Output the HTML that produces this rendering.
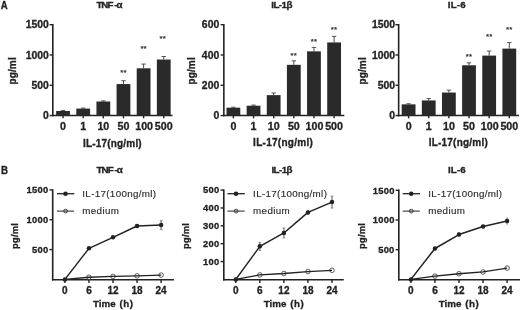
<!DOCTYPE html>
<html><head><meta charset="utf-8"><title>Figure</title>
<style>
html,body{margin:0;padding:0;background:#fff;}
body{width:520px;height:310px;overflow:hidden;}
svg{display:block;font-family:"Liberation Sans",sans-serif;}
</style></head><body>
<svg width="520" height="310" viewBox="0 0 520 310">
<defs><filter id="bl" x="0" y="0" width="520" height="310" filterUnits="userSpaceOnUse"><feGaussianBlur stdDeviation="0.5"/></filter></defs>
<rect width="520" height="310" fill="#fff"/>
<g filter="url(#bl)">
<line x1="52.8" y1="24" x2="52.8" y2="116.35" stroke="#222" stroke-width="1.6"/>
<line x1="52" y1="115.55" x2="172.5" y2="115.55" stroke="#222" stroke-width="1.6"/>
<line x1="49.6" y1="115.55" x2="52.8" y2="115.55" stroke="#222" stroke-width="1.4"/>
<text transform="translate(48.8 119.3)" font-size="10.4" text-anchor="end" font-weight="bold" stroke="#222" stroke-width="0.3" fill="#222">0</text>
<line x1="49.6" y1="85.27" x2="52.8" y2="85.27" stroke="#222" stroke-width="1.4"/>
<text transform="translate(48.8 89.02)" font-size="10.4" text-anchor="end" font-weight="bold" stroke="#222" stroke-width="0.3" fill="#222">500</text>
<line x1="49.6" y1="54.98" x2="52.8" y2="54.98" stroke="#222" stroke-width="1.4"/>
<text transform="translate(48.8 58.73)" font-size="10.4" text-anchor="end" font-weight="bold" stroke="#222" stroke-width="0.3" fill="#222">1000</text>
<line x1="49.6" y1="24.7" x2="52.8" y2="24.7" stroke="#222" stroke-width="1.4"/>
<text transform="translate(48.8 28.45)" font-size="10.4" text-anchor="end" font-weight="bold" stroke="#222" stroke-width="0.3" fill="#222">1500</text>
<rect x="56.15" y="111.01" width="13.8" height="4.54" fill="#2c2c2c"/>
<line x1="63.05" y1="111.01" x2="63.05" y2="110.52" stroke="#333" stroke-width="0.9"/>
<line x1="60.85" y1="110.52" x2="65.25" y2="110.52" stroke="#3a3a3a" stroke-width="0.85"/>
<line x1="63.05" y1="115.55" x2="63.05" y2="118.35" stroke="#222" stroke-width="1.4"/>
<text transform="translate(63.05 130.15)" font-size="10.7" text-anchor="middle" font-weight="bold" stroke="#222" stroke-width="0.3" fill="#222">0</text>
<rect x="76.29" y="108.58" width="13.8" height="6.97" fill="#2c2c2c"/>
<line x1="83.19" y1="108.58" x2="83.19" y2="108.1" stroke="#333" stroke-width="0.9"/>
<line x1="80.99" y1="108.1" x2="85.39" y2="108.1" stroke="#3a3a3a" stroke-width="0.85"/>
<line x1="83.19" y1="115.55" x2="83.19" y2="118.35" stroke="#222" stroke-width="1.4"/>
<text transform="translate(83.19 130.15)" font-size="10.7" text-anchor="middle" font-weight="bold" stroke="#222" stroke-width="0.3" fill="#222">1</text>
<rect x="96.43" y="101.5" width="13.8" height="14.05" fill="#2c2c2c"/>
<line x1="103.33" y1="101.5" x2="103.33" y2="100.89" stroke="#333" stroke-width="0.9"/>
<line x1="101.13" y1="100.89" x2="105.53" y2="100.89" stroke="#3a3a3a" stroke-width="0.85"/>
<line x1="103.33" y1="115.55" x2="103.33" y2="118.35" stroke="#222" stroke-width="1.4"/>
<text transform="translate(103.33 130.15)" font-size="10.7" text-anchor="middle" font-weight="bold" stroke="#222" stroke-width="0.3" fill="#222">10</text>
<rect x="116.57" y="84.06" width="13.8" height="31.49" fill="#2c2c2c"/>
<line x1="123.47" y1="84.06" x2="123.47" y2="80.72" stroke="#333" stroke-width="0.9"/>
<line x1="121.27" y1="80.72" x2="125.67" y2="80.72" stroke="#3a3a3a" stroke-width="0.85"/>
<line x1="123.47" y1="115.55" x2="123.47" y2="118.35" stroke="#222" stroke-width="1.4"/>
<text transform="translate(123.47 130.15)" font-size="10.7" text-anchor="middle" font-weight="bold" stroke="#222" stroke-width="0.3" fill="#222">50</text>
<text transform="translate(123.47 75.4)" font-size="7.8" text-anchor="middle" stroke="#333" stroke-width="0.25" letter-spacing="0.2" fill="#333">**</text>
<rect x="136.71" y="68.31" width="13.8" height="47.24" fill="#2c2c2c"/>
<line x1="143.61" y1="68.31" x2="143.61" y2="64.07" stroke="#333" stroke-width="0.9"/>
<line x1="141.41" y1="64.07" x2="145.81" y2="64.07" stroke="#3a3a3a" stroke-width="0.85"/>
<line x1="143.61" y1="115.55" x2="143.61" y2="118.35" stroke="#222" stroke-width="1.4"/>
<text transform="translate(144.11 130.15)" font-size="10.7" text-anchor="middle" font-weight="bold" stroke="#222" stroke-width="0.3" fill="#222">100</text>
<text transform="translate(143.61 51.3)" font-size="7.8" text-anchor="middle" stroke="#333" stroke-width="0.25" letter-spacing="0.2" fill="#333">**</text>
<rect x="156.85" y="59.53" width="13.8" height="56.02" fill="#2c2c2c"/>
<line x1="163.75" y1="59.53" x2="163.75" y2="56.5" stroke="#333" stroke-width="0.9"/>
<line x1="161.55" y1="56.5" x2="165.95" y2="56.5" stroke="#3a3a3a" stroke-width="0.85"/>
<line x1="163.75" y1="115.55" x2="163.75" y2="118.35" stroke="#222" stroke-width="1.4"/>
<text transform="translate(163.75 130.15)" font-size="10.7" text-anchor="middle" font-weight="bold" stroke="#222" stroke-width="0.3" fill="#222">500</text>
<text transform="translate(162.85 40.7)" font-size="7.8" text-anchor="middle" stroke="#333" stroke-width="0.25" letter-spacing="0.2" fill="#333">**</text>
<text x="96.4 101.3 107.5 114.2 116.6" y="8.25" font-size="9.8" font-weight="bold" stroke="#222" stroke-width="0.3" fill="#222">TNF-α</text>
<text transform="translate(83.1 146.7)" font-size="10.0" textLength="58.6" lengthAdjust="spacing" font-weight="bold" stroke="#222" stroke-width="0.3" fill="#222">IL-17(ng/ml)</text>
<text transform="translate(16.1 70.9) rotate(-90)" font-size="10.0" text-anchor="middle" font-weight="bold" stroke="#222" stroke-width="0.3" letter-spacing="0.15" fill="#222">pg/ml</text>
<line x1="223.85" y1="24" x2="223.85" y2="116.35" stroke="#222" stroke-width="1.6"/>
<line x1="223.05" y1="115.55" x2="344.3" y2="115.55" stroke="#222" stroke-width="1.6"/>
<line x1="220.65" y1="115.55" x2="223.85" y2="115.55" stroke="#222" stroke-width="1.4"/>
<text transform="translate(219.2 119.3)" font-size="10.4" text-anchor="end" font-weight="bold" stroke="#222" stroke-width="0.3" fill="#222">0</text>
<line x1="220.65" y1="85.27" x2="223.85" y2="85.27" stroke="#222" stroke-width="1.4"/>
<text transform="translate(219.2 89.02)" font-size="10.4" text-anchor="end" font-weight="bold" stroke="#222" stroke-width="0.3" fill="#222">200</text>
<line x1="220.65" y1="54.98" x2="223.85" y2="54.98" stroke="#222" stroke-width="1.4"/>
<text transform="translate(219.2 58.73)" font-size="10.4" text-anchor="end" font-weight="bold" stroke="#222" stroke-width="0.3" fill="#222">400</text>
<line x1="220.65" y1="24.7" x2="223.85" y2="24.7" stroke="#222" stroke-width="1.4"/>
<text transform="translate(219.2 28.45)" font-size="10.4" text-anchor="end" font-weight="bold" stroke="#222" stroke-width="0.3" fill="#222">600</text>
<rect x="226.5" y="107.68" width="13.8" height="7.87" fill="#2c2c2c"/>
<line x1="233.4" y1="107.68" x2="233.4" y2="107.22" stroke="#333" stroke-width="0.9"/>
<line x1="231.2" y1="107.22" x2="235.6" y2="107.22" stroke="#3a3a3a" stroke-width="0.85"/>
<line x1="233.4" y1="115.55" x2="233.4" y2="118.35" stroke="#222" stroke-width="1.4"/>
<text transform="translate(233.4 130.15)" font-size="10.7" text-anchor="middle" font-weight="bold" stroke="#222" stroke-width="0.3" fill="#222">0</text>
<rect x="246.64" y="105.71" width="13.8" height="9.84" fill="#2c2c2c"/>
<line x1="253.54" y1="105.71" x2="253.54" y2="105.1" stroke="#333" stroke-width="0.9"/>
<line x1="251.34" y1="105.1" x2="255.74" y2="105.1" stroke="#3a3a3a" stroke-width="0.85"/>
<line x1="253.54" y1="115.55" x2="253.54" y2="118.35" stroke="#222" stroke-width="1.4"/>
<text transform="translate(253.54 130.15)" font-size="10.7" text-anchor="middle" font-weight="bold" stroke="#222" stroke-width="0.3" fill="#222">1</text>
<rect x="266.78" y="95.11" width="13.8" height="20.44" fill="#2c2c2c"/>
<line x1="273.68" y1="95.11" x2="273.68" y2="92.99" stroke="#333" stroke-width="0.9"/>
<line x1="271.48" y1="92.99" x2="275.88" y2="92.99" stroke="#3a3a3a" stroke-width="0.85"/>
<line x1="273.68" y1="115.55" x2="273.68" y2="118.35" stroke="#222" stroke-width="1.4"/>
<text transform="translate(273.68 130.15)" font-size="10.7" text-anchor="middle" font-weight="bold" stroke="#222" stroke-width="0.3" fill="#222">10</text>
<rect x="286.92" y="64.83" width="13.8" height="50.72" fill="#2c2c2c"/>
<line x1="293.82" y1="64.83" x2="293.82" y2="60.89" stroke="#333" stroke-width="0.9"/>
<line x1="291.62" y1="60.89" x2="296.02" y2="60.89" stroke="#3a3a3a" stroke-width="0.85"/>
<line x1="293.82" y1="115.55" x2="293.82" y2="118.35" stroke="#222" stroke-width="1.4"/>
<text transform="translate(293.82 130.15)" font-size="10.7" text-anchor="middle" font-weight="bold" stroke="#222" stroke-width="0.3" fill="#222">50</text>
<text transform="translate(293.82 58.35)" font-size="7.8" text-anchor="middle" stroke="#333" stroke-width="0.25" letter-spacing="0.2" fill="#333">**</text>
<rect x="307.06" y="51.35" width="13.8" height="64.2" fill="#2c2c2c"/>
<line x1="313.96" y1="51.35" x2="313.96" y2="47.41" stroke="#333" stroke-width="0.9"/>
<line x1="311.76" y1="47.41" x2="316.16" y2="47.41" stroke="#3a3a3a" stroke-width="0.85"/>
<line x1="313.96" y1="115.55" x2="313.96" y2="118.35" stroke="#222" stroke-width="1.4"/>
<text transform="translate(314.46 130.15)" font-size="10.7" text-anchor="middle" font-weight="bold" stroke="#222" stroke-width="0.3" fill="#222">100</text>
<text transform="translate(313.96 44.05)" font-size="7.8" text-anchor="middle" stroke="#333" stroke-width="0.25" letter-spacing="0.2" fill="#333">**</text>
<rect x="327.2" y="42.42" width="13.8" height="73.13" fill="#2c2c2c"/>
<line x1="334.1" y1="42.42" x2="334.1" y2="36.36" stroke="#333" stroke-width="0.9"/>
<line x1="331.9" y1="36.36" x2="336.3" y2="36.36" stroke="#3a3a3a" stroke-width="0.85"/>
<line x1="334.1" y1="115.55" x2="334.1" y2="118.35" stroke="#222" stroke-width="1.4"/>
<text transform="translate(334.1 130.15)" font-size="10.7" text-anchor="middle" font-weight="bold" stroke="#222" stroke-width="0.3" fill="#222">500</text>
<text transform="translate(334.1 32.3)" font-size="7.8" text-anchor="middle" stroke="#333" stroke-width="0.25" letter-spacing="0.2" fill="#333">**</text>
<text transform="translate(271.2 8.25)" font-size="9.8" textLength="21.3" lengthAdjust="spacing" font-weight="bold" stroke="#222" stroke-width="0.3" fill="#222">IL-1β</text>
<text transform="translate(253.1 145.7)" font-size="10.0" textLength="59.7" lengthAdjust="spacing" font-weight="bold" stroke="#222" stroke-width="0.3" fill="#222">IL-17(ng/ml)</text>
<text transform="translate(195.2 70.9) rotate(-90)" font-size="10.0" text-anchor="middle" font-weight="bold" stroke="#222" stroke-width="0.3" letter-spacing="0.15" fill="#222">pg/ml</text>
<line x1="398.65" y1="24" x2="398.65" y2="116.35" stroke="#222" stroke-width="1.6"/>
<line x1="397.85" y1="115.55" x2="519" y2="115.55" stroke="#222" stroke-width="1.6"/>
<line x1="395.45" y1="115.55" x2="398.65" y2="115.55" stroke="#222" stroke-width="1.4"/>
<text transform="translate(395 119.3)" font-size="10.4" text-anchor="end" font-weight="bold" stroke="#222" stroke-width="0.3" fill="#222">0</text>
<line x1="395.45" y1="85.27" x2="398.65" y2="85.27" stroke="#222" stroke-width="1.4"/>
<text transform="translate(395 89.02)" font-size="10.4" text-anchor="end" font-weight="bold" stroke="#222" stroke-width="0.3" fill="#222">500</text>
<line x1="395.45" y1="54.98" x2="398.65" y2="54.98" stroke="#222" stroke-width="1.4"/>
<text transform="translate(395 58.73)" font-size="10.4" text-anchor="end" font-weight="bold" stroke="#222" stroke-width="0.3" fill="#222">1000</text>
<line x1="395.45" y1="24.7" x2="398.65" y2="24.7" stroke="#222" stroke-width="1.4"/>
<text transform="translate(395 28.45)" font-size="10.4" text-anchor="end" font-weight="bold" stroke="#222" stroke-width="0.3" fill="#222">1500</text>
<rect x="401.7" y="104.35" width="13.8" height="11.2" fill="#2c2c2c"/>
<line x1="408.6" y1="104.35" x2="408.6" y2="103.74" stroke="#333" stroke-width="0.9"/>
<line x1="406.4" y1="103.74" x2="410.8" y2="103.74" stroke="#3a3a3a" stroke-width="0.85"/>
<line x1="408.6" y1="115.55" x2="408.6" y2="118.35" stroke="#222" stroke-width="1.4"/>
<text transform="translate(408.6 130.15)" font-size="10.7" text-anchor="middle" font-weight="bold" stroke="#222" stroke-width="0.3" fill="#222">0</text>
<rect x="421.84" y="100.41" width="13.8" height="15.14" fill="#2c2c2c"/>
<line x1="428.74" y1="100.41" x2="428.74" y2="98.59" stroke="#333" stroke-width="0.9"/>
<line x1="426.54" y1="98.59" x2="430.94" y2="98.59" stroke="#3a3a3a" stroke-width="0.85"/>
<line x1="428.74" y1="115.55" x2="428.74" y2="118.35" stroke="#222" stroke-width="1.4"/>
<text transform="translate(428.74 130.15)" font-size="10.7" text-anchor="middle" font-weight="bold" stroke="#222" stroke-width="0.3" fill="#222">1</text>
<rect x="441.98" y="92.53" width="13.8" height="23.02" fill="#2c2c2c"/>
<line x1="448.88" y1="92.53" x2="448.88" y2="90.11" stroke="#333" stroke-width="0.9"/>
<line x1="446.68" y1="90.11" x2="451.08" y2="90.11" stroke="#3a3a3a" stroke-width="0.85"/>
<line x1="448.88" y1="115.55" x2="448.88" y2="118.35" stroke="#222" stroke-width="1.4"/>
<text transform="translate(448.88 130.15)" font-size="10.7" text-anchor="middle" font-weight="bold" stroke="#222" stroke-width="0.3" fill="#222">10</text>
<rect x="462.12" y="65.28" width="13.8" height="50.27" fill="#2c2c2c"/>
<line x1="469.02" y1="65.28" x2="469.02" y2="62.86" stroke="#333" stroke-width="0.9"/>
<line x1="466.82" y1="62.86" x2="471.22" y2="62.86" stroke="#3a3a3a" stroke-width="0.85"/>
<line x1="469.02" y1="115.55" x2="469.02" y2="118.35" stroke="#222" stroke-width="1.4"/>
<text transform="translate(469.02 130.15)" font-size="10.7" text-anchor="middle" font-weight="bold" stroke="#222" stroke-width="0.3" fill="#222">50</text>
<text transform="translate(469.02 59.25)" font-size="7.8" text-anchor="middle" stroke="#333" stroke-width="0.25" letter-spacing="0.2" fill="#333">**</text>
<rect x="482.26" y="55.59" width="13.8" height="59.96" fill="#2c2c2c"/>
<line x1="489.16" y1="55.59" x2="489.16" y2="51.05" stroke="#333" stroke-width="0.9"/>
<line x1="486.96" y1="51.05" x2="491.36" y2="51.05" stroke="#3a3a3a" stroke-width="0.85"/>
<line x1="489.16" y1="115.55" x2="489.16" y2="118.35" stroke="#222" stroke-width="1.4"/>
<text transform="translate(489.66 130.15)" font-size="10.7" text-anchor="middle" font-weight="bold" stroke="#222" stroke-width="0.3" fill="#222">100</text>
<text transform="translate(489.16 38.85)" font-size="7.8" text-anchor="middle" stroke="#333" stroke-width="0.25" letter-spacing="0.2" fill="#333">**</text>
<rect x="502.4" y="48.62" width="13.8" height="66.93" fill="#2c2c2c"/>
<line x1="509.3" y1="48.62" x2="509.3" y2="42.57" stroke="#333" stroke-width="0.9"/>
<line x1="507.1" y1="42.57" x2="511.5" y2="42.57" stroke="#3a3a3a" stroke-width="0.85"/>
<line x1="509.3" y1="115.55" x2="509.3" y2="118.35" stroke="#222" stroke-width="1.4"/>
<text transform="translate(509.3 130.15)" font-size="10.7" text-anchor="middle" font-weight="bold" stroke="#222" stroke-width="0.3" fill="#222">500</text>
<text transform="translate(509.3 31.65)" font-size="7.8" text-anchor="middle" stroke="#333" stroke-width="0.25" letter-spacing="0.2" fill="#333">**</text>
<text transform="translate(447.7 8.25)" font-size="9.8" textLength="18.1" lengthAdjust="spacing" font-weight="bold" stroke="#222" stroke-width="0.3" fill="#222">IL-6</text>
<text transform="translate(428.7 145.8)" font-size="10.0" textLength="59.1" lengthAdjust="spacing" font-weight="bold" stroke="#222" stroke-width="0.3" fill="#222">IL-17(ng/ml)</text>
<text transform="translate(365.8 70.9) rotate(-90)" font-size="10.0" text-anchor="middle" font-weight="bold" stroke="#222" stroke-width="0.3" letter-spacing="0.15" fill="#222">pg/ml</text>
<text transform="translate(0.7 8.5)" font-size="10.2" textLength="6.9" lengthAdjust="spacingAndGlyphs" font-weight="bold" stroke="#222" stroke-width="0.3" fill="#222">A</text>
<text transform="translate(0.9 173.8)" font-size="10.3" textLength="7" lengthAdjust="spacingAndGlyphs" font-weight="bold" stroke="#222" stroke-width="0.3" fill="#222">B</text>
<line x1="52.7" y1="189.2" x2="52.7" y2="280.5" stroke="#222" stroke-width="1.6"/>
<line x1="51.9" y1="279.7" x2="173.9" y2="279.7" stroke="#222" stroke-width="1.6"/>
<line x1="49.5" y1="249.57" x2="52.7" y2="249.57" stroke="#222" stroke-width="1.4"/>
<text transform="translate(48.4 252.92)" font-size="9.4" text-anchor="end" font-weight="bold" stroke="#222" stroke-width="0.3" letter-spacing="0.25" fill="#222">500</text>
<line x1="49.5" y1="219.73" x2="52.7" y2="219.73" stroke="#222" stroke-width="1.4"/>
<text transform="translate(48.4 223.08)" font-size="9.4" text-anchor="end" font-weight="bold" stroke="#222" stroke-width="0.3" letter-spacing="0.25" fill="#222">1000</text>
<line x1="49.5" y1="189.9" x2="52.7" y2="189.9" stroke="#222" stroke-width="1.4"/>
<text transform="translate(48.4 193.25)" font-size="9.4" text-anchor="end" font-weight="bold" stroke="#222" stroke-width="0.3" letter-spacing="0.25" fill="#222">1500</text>
<line x1="64.9" y1="279.7" x2="64.9" y2="282.9" stroke="#222" stroke-width="1.4"/>
<text transform="translate(64.9 294)" font-size="10.0" text-anchor="middle" font-weight="bold" stroke="#222" stroke-width="0.3" fill="#222">0</text>
<line x1="88.95" y1="279.7" x2="88.95" y2="282.9" stroke="#222" stroke-width="1.4"/>
<text transform="translate(88.95 294)" font-size="10.0" text-anchor="middle" font-weight="bold" stroke="#222" stroke-width="0.3" fill="#222">6</text>
<line x1="113" y1="279.7" x2="113" y2="282.9" stroke="#222" stroke-width="1.4"/>
<text transform="translate(113 294)" font-size="10.0" text-anchor="middle" font-weight="bold" stroke="#222" stroke-width="0.3" fill="#222">12</text>
<line x1="137.05" y1="279.7" x2="137.05" y2="282.9" stroke="#222" stroke-width="1.4"/>
<text transform="translate(137.05 294)" font-size="10.0" text-anchor="middle" font-weight="bold" stroke="#222" stroke-width="0.3" fill="#222">18</text>
<line x1="161.1" y1="279.7" x2="161.1" y2="282.9" stroke="#222" stroke-width="1.4"/>
<text transform="translate(161.1 294)" font-size="10.0" text-anchor="middle" font-weight="bold" stroke="#222" stroke-width="0.3" fill="#222">24</text>
<circle cx="88.95" cy="277.25" r="2.3" fill="#f6f6f6" stroke="#222" stroke-width="0.7"/>
<circle cx="113" cy="276.42" r="2.3" fill="#f6f6f6" stroke="#222" stroke-width="0.7"/>
<circle cx="137.05" cy="275.82" r="2.3" fill="#f6f6f6" stroke="#222" stroke-width="0.7"/>
<circle cx="161.1" cy="275.1" r="2.3" fill="#f6f6f6" stroke="#222" stroke-width="0.7"/>
<polyline points="64.9,279.4 88.95,277.25 113,276.42 137.05,275.82 161.1,275.1" fill="none" stroke="#222" stroke-width="1.3"/>
<line x1="161.1" y1="220.6" x2="161.1" y2="229.6" stroke="#333" stroke-width="0.8"/>
<line x1="159.8" y1="220.6" x2="162.4" y2="220.6" stroke="#555" stroke-width="0.6"/>
<line x1="159.8" y1="229.6" x2="162.4" y2="229.6" stroke="#555" stroke-width="0.6"/>
<polyline points="64.9,279.4 88.95,248.37 113,237.33 137.05,226 161.1,225.1" fill="none" stroke="#222" stroke-width="1.5" stroke-linejoin="round"/>
<circle cx="64.9" cy="279.4" r="2.25" fill="#222"/>
<circle cx="88.95" cy="248.37" r="2.25" fill="#222"/>
<circle cx="113" cy="237.33" r="2.25" fill="#222"/>
<circle cx="137.05" cy="226" r="2.25" fill="#222"/>
<circle cx="161.1" cy="225.1" r="2.25" fill="#222"/>
<line x1="57" y1="193.7" x2="74.3" y2="193.7" stroke="#222" stroke-width="1.3"/>
<circle cx="65.5" cy="193.7" r="2.3" fill="#222"/>
<text transform="translate(82.3 196.7)" font-size="9.8" textLength="73.8" lengthAdjust="spacing" stroke="#2e2e2e" stroke-width="0.15" fill="#2e2e2e">IL-17(100ng/ml)</text>
<circle cx="65.6" cy="211.1" r="1.9" fill="#e8e8e8" stroke="#222" stroke-width="0.8"/>
<line x1="57" y1="211.1" x2="74.1" y2="211.1" stroke="#333" stroke-width="1.1"/>
<text transform="translate(82.3 214.2)" font-size="9.8" textLength="36.6" lengthAdjust="spacing" stroke="#2e2e2e" stroke-width="0.15" fill="#2e2e2e">medium</text>
<text x="96.6 101.5 107.7 114.4 116.8" y="173.35" font-size="9.8" font-weight="bold" stroke="#222" stroke-width="0.3" fill="#222">TNF-α</text>
<text transform="translate(92.9 306.7)" font-size="9.8" font-weight="bold" stroke="#222" stroke-width="0.3" fill="#222">Time</text>
<text transform="translate(119.4 306.7)" font-size="9.8" font-weight="bold" stroke="#222" stroke-width="0.3" letter-spacing="0.5" fill="#222">(h)</text>
<text transform="translate(18.3 235.9) rotate(-90)" font-size="9.3" text-anchor="middle" font-weight="bold" stroke="#222" stroke-width="0.3" letter-spacing="0.3" fill="#222">pg/ml</text>
<line x1="223.8" y1="189.4" x2="223.8" y2="280.5" stroke="#222" stroke-width="1.6"/>
<line x1="223" y1="279.7" x2="343.8" y2="279.7" stroke="#222" stroke-width="1.6"/>
<line x1="220.6" y1="261.54" x2="223.8" y2="261.54" stroke="#222" stroke-width="1.4"/>
<text transform="translate(219.4 264.89)" font-size="9.4" text-anchor="end" font-weight="bold" stroke="#222" stroke-width="0.3" letter-spacing="0.25" fill="#222">100</text>
<line x1="220.6" y1="243.68" x2="223.8" y2="243.68" stroke="#222" stroke-width="1.4"/>
<text transform="translate(219.4 247.03)" font-size="9.4" text-anchor="end" font-weight="bold" stroke="#222" stroke-width="0.3" letter-spacing="0.25" fill="#222">200</text>
<line x1="220.6" y1="225.82" x2="223.8" y2="225.82" stroke="#222" stroke-width="1.4"/>
<text transform="translate(219.4 229.17)" font-size="9.4" text-anchor="end" font-weight="bold" stroke="#222" stroke-width="0.3" letter-spacing="0.25" fill="#222">300</text>
<line x1="220.6" y1="207.96" x2="223.8" y2="207.96" stroke="#222" stroke-width="1.4"/>
<text transform="translate(219.4 211.31)" font-size="9.4" text-anchor="end" font-weight="bold" stroke="#222" stroke-width="0.3" letter-spacing="0.25" fill="#222">400</text>
<line x1="220.6" y1="190.1" x2="223.8" y2="190.1" stroke="#222" stroke-width="1.4"/>
<text transform="translate(219.4 193.45)" font-size="9.4" text-anchor="end" font-weight="bold" stroke="#222" stroke-width="0.3" letter-spacing="0.25" fill="#222">500</text>
<line x1="235.8" y1="279.7" x2="235.8" y2="282.9" stroke="#222" stroke-width="1.4"/>
<text transform="translate(235.8 294)" font-size="10.0" text-anchor="middle" font-weight="bold" stroke="#222" stroke-width="0.3" fill="#222">0</text>
<line x1="259.85" y1="279.7" x2="259.85" y2="282.9" stroke="#222" stroke-width="1.4"/>
<text transform="translate(259.85 294)" font-size="10.0" text-anchor="middle" font-weight="bold" stroke="#222" stroke-width="0.3" fill="#222">6</text>
<line x1="283.9" y1="279.7" x2="283.9" y2="282.9" stroke="#222" stroke-width="1.4"/>
<text transform="translate(283.9 294)" font-size="10.0" text-anchor="middle" font-weight="bold" stroke="#222" stroke-width="0.3" fill="#222">12</text>
<line x1="307.95" y1="279.7" x2="307.95" y2="282.9" stroke="#222" stroke-width="1.4"/>
<text transform="translate(307.95 294)" font-size="10.0" text-anchor="middle" font-weight="bold" stroke="#222" stroke-width="0.3" fill="#222">18</text>
<line x1="332" y1="279.7" x2="332" y2="282.9" stroke="#222" stroke-width="1.4"/>
<text transform="translate(332 294)" font-size="10.0" text-anchor="middle" font-weight="bold" stroke="#222" stroke-width="0.3" fill="#222">24</text>
<circle cx="259.85" cy="274.94" r="2.3" fill="#f6f6f6" stroke="#222" stroke-width="0.7"/>
<circle cx="283.9" cy="273.51" r="2.3" fill="#f6f6f6" stroke="#222" stroke-width="0.7"/>
<circle cx="307.95" cy="271.54" r="2.3" fill="#f6f6f6" stroke="#222" stroke-width="0.7"/>
<circle cx="332" cy="270.29" r="2.3" fill="#f6f6f6" stroke="#222" stroke-width="0.7"/>
<polyline points="235.8,279.4 259.85,274.94 283.9,273.51 307.95,271.54 332,270.29" fill="none" stroke="#222" stroke-width="1.3"/>
<line x1="259.85" y1="242.36" x2="259.85" y2="250.36" stroke="#333" stroke-width="0.8"/>
<line x1="258.55" y1="242.36" x2="261.15" y2="242.36" stroke="#555" stroke-width="0.6"/>
<line x1="258.55" y1="250.36" x2="261.15" y2="250.36" stroke="#555" stroke-width="0.6"/>
<line x1="283.9" y1="227.96" x2="283.9" y2="237.96" stroke="#333" stroke-width="0.8"/>
<line x1="282.6" y1="227.96" x2="285.2" y2="227.96" stroke="#555" stroke-width="0.6"/>
<line x1="282.6" y1="237.96" x2="285.2" y2="237.96" stroke="#555" stroke-width="0.6"/>
<line x1="307.95" y1="209.83" x2="307.95" y2="215.03" stroke="#333" stroke-width="0.8"/>
<line x1="332" y1="196.07" x2="332" y2="208.07" stroke="#333" stroke-width="0.8"/>
<line x1="330.7" y1="196.07" x2="333.3" y2="196.07" stroke="#555" stroke-width="0.6"/>
<line x1="330.7" y1="208.07" x2="333.3" y2="208.07" stroke="#555" stroke-width="0.6"/>
<polyline points="235.8,279.4 259.85,246.36 283.9,232.96 307.95,212.43 332,202.07" fill="none" stroke="#222" stroke-width="1.5" stroke-linejoin="round"/>
<circle cx="235.8" cy="279.4" r="2.25" fill="#222"/>
<circle cx="259.85" cy="246.36" r="2.25" fill="#222"/>
<circle cx="283.9" cy="232.96" r="2.25" fill="#222"/>
<circle cx="307.95" cy="212.43" r="2.25" fill="#222"/>
<circle cx="332" cy="202.07" r="2.25" fill="#222"/>
<line x1="227.5" y1="193.7" x2="244.8" y2="193.7" stroke="#222" stroke-width="1.3"/>
<circle cx="236" cy="193.7" r="2.3" fill="#222"/>
<text transform="translate(253.1 196.7)" font-size="9.8" textLength="73.8" lengthAdjust="spacing" stroke="#2e2e2e" stroke-width="0.15" fill="#2e2e2e">IL-17(100ng/ml)</text>
<circle cx="236.1" cy="211.1" r="1.9" fill="#e8e8e8" stroke="#222" stroke-width="0.8"/>
<line x1="227.5" y1="211.1" x2="244.6" y2="211.1" stroke="#333" stroke-width="1.1"/>
<text transform="translate(253.1 214.2)" font-size="9.8" textLength="36.6" lengthAdjust="spacing" stroke="#2e2e2e" stroke-width="0.15" fill="#2e2e2e">medium</text>
<text transform="translate(271.4 173.35)" font-size="9.8" textLength="21.1" lengthAdjust="spacing" font-weight="bold" stroke="#222" stroke-width="0.3" fill="#222">IL-1β</text>
<text transform="translate(263.7 306.7)" font-size="9.8" font-weight="bold" stroke="#222" stroke-width="0.3" fill="#222">Time</text>
<text transform="translate(290.2 306.7)" font-size="9.8" font-weight="bold" stroke="#222" stroke-width="0.3" letter-spacing="0.5" fill="#222">(h)</text>
<text transform="translate(189.2 235.9) rotate(-90)" font-size="9.3" text-anchor="middle" font-weight="bold" stroke="#222" stroke-width="0.3" letter-spacing="0.3" fill="#222">pg/ml</text>
<line x1="398.8" y1="189.6" x2="398.8" y2="280.5" stroke="#222" stroke-width="1.6"/>
<line x1="398" y1="279.7" x2="520" y2="279.7" stroke="#222" stroke-width="1.6"/>
<line x1="395.6" y1="249.7" x2="398.8" y2="249.7" stroke="#222" stroke-width="1.4"/>
<text transform="translate(394.6 253.05)" font-size="9.4" text-anchor="end" font-weight="bold" stroke="#222" stroke-width="0.3" letter-spacing="0.25" fill="#222">500</text>
<line x1="395.6" y1="220" x2="398.8" y2="220" stroke="#222" stroke-width="1.4"/>
<text transform="translate(394.6 223.35)" font-size="9.4" text-anchor="end" font-weight="bold" stroke="#222" stroke-width="0.3" letter-spacing="0.25" fill="#222">1000</text>
<line x1="395.6" y1="190.3" x2="398.8" y2="190.3" stroke="#222" stroke-width="1.4"/>
<text transform="translate(394.6 193.65)" font-size="9.4" text-anchor="end" font-weight="bold" stroke="#222" stroke-width="0.3" letter-spacing="0.25" fill="#222">1500</text>
<line x1="410.9" y1="279.7" x2="410.9" y2="282.9" stroke="#222" stroke-width="1.4"/>
<text transform="translate(410.9 294)" font-size="10.0" text-anchor="middle" font-weight="bold" stroke="#222" stroke-width="0.3" fill="#222">0</text>
<line x1="434.95" y1="279.7" x2="434.95" y2="282.9" stroke="#222" stroke-width="1.4"/>
<text transform="translate(434.95 294)" font-size="10.0" text-anchor="middle" font-weight="bold" stroke="#222" stroke-width="0.3" fill="#222">6</text>
<line x1="459" y1="279.7" x2="459" y2="282.9" stroke="#222" stroke-width="1.4"/>
<text transform="translate(459 294)" font-size="10.0" text-anchor="middle" font-weight="bold" stroke="#222" stroke-width="0.3" fill="#222">12</text>
<line x1="483.05" y1="279.7" x2="483.05" y2="282.9" stroke="#222" stroke-width="1.4"/>
<text transform="translate(483.05 294)" font-size="10.0" text-anchor="middle" font-weight="bold" stroke="#222" stroke-width="0.3" fill="#222">18</text>
<line x1="507.1" y1="279.7" x2="507.1" y2="282.9" stroke="#222" stroke-width="1.4"/>
<text transform="translate(507.1 294)" font-size="10.0" text-anchor="middle" font-weight="bold" stroke="#222" stroke-width="0.3" fill="#222">24</text>
<circle cx="434.95" cy="276.13" r="2.3" fill="#f6f6f6" stroke="#222" stroke-width="0.7"/>
<circle cx="459" cy="273.76" r="2.3" fill="#f6f6f6" stroke="#222" stroke-width="0.7"/>
<circle cx="483.05" cy="271.97" r="2.3" fill="#f6f6f6" stroke="#222" stroke-width="0.7"/>
<circle cx="507.1" cy="268.11" r="2.3" fill="#f6f6f6" stroke="#222" stroke-width="0.7"/>
<polyline points="410.9,279.4 434.95,276.13 459,273.76 483.05,271.97 507.1,268.11" fill="none" stroke="#222" stroke-width="1.3"/>
<line x1="459" y1="232.05" x2="459" y2="237.05" stroke="#333" stroke-width="0.8"/>
<line x1="483.05" y1="224.92" x2="483.05" y2="227.92" stroke="#333" stroke-width="0.8"/>
<line x1="507.1" y1="217.57" x2="507.1" y2="224.57" stroke="#333" stroke-width="0.8"/>
<polyline points="410.9,279.4 434.95,248.51 459,234.55 483.05,226.42 507.1,221.07" fill="none" stroke="#222" stroke-width="1.5" stroke-linejoin="round"/>
<circle cx="410.9" cy="279.4" r="2.25" fill="#222"/>
<circle cx="434.95" cy="248.51" r="2.25" fill="#222"/>
<circle cx="459" cy="234.55" r="2.25" fill="#222"/>
<circle cx="483.05" cy="226.42" r="2.25" fill="#222"/>
<circle cx="507.1" cy="221.07" r="2.25" fill="#222"/>
<line x1="402.7" y1="193.7" x2="420" y2="193.7" stroke="#222" stroke-width="1.3"/>
<circle cx="411.2" cy="193.7" r="2.3" fill="#222"/>
<text transform="translate(428.3 196.7)" font-size="9.8" textLength="73.8" lengthAdjust="spacing" stroke="#2e2e2e" stroke-width="0.15" fill="#2e2e2e">IL-17(100ng/ml)</text>
<circle cx="411.3" cy="211.1" r="1.9" fill="#e8e8e8" stroke="#222" stroke-width="0.8"/>
<line x1="402.7" y1="211.1" x2="419.8" y2="211.1" stroke="#333" stroke-width="1.1"/>
<text transform="translate(428.3 214.2)" font-size="9.8" textLength="36.6" lengthAdjust="spacing" stroke="#2e2e2e" stroke-width="0.15" fill="#2e2e2e">medium</text>
<text transform="translate(447.9 173.35)" font-size="9.8" textLength="17.9" lengthAdjust="spacing" font-weight="bold" stroke="#222" stroke-width="0.3" fill="#222">IL-6</text>
<text transform="translate(438.7 306.7)" font-size="9.8" font-weight="bold" stroke="#222" stroke-width="0.3" fill="#222">Time</text>
<text transform="translate(465.2 306.7)" font-size="9.8" font-weight="bold" stroke="#222" stroke-width="0.3" letter-spacing="0.5" fill="#222">(h)</text>
<text transform="translate(364.5 235.9) rotate(-90)" font-size="9.3" text-anchor="middle" font-weight="bold" stroke="#222" stroke-width="0.3" letter-spacing="0.3" fill="#222">pg/ml</text>
</g>
</svg>
</body></html>
